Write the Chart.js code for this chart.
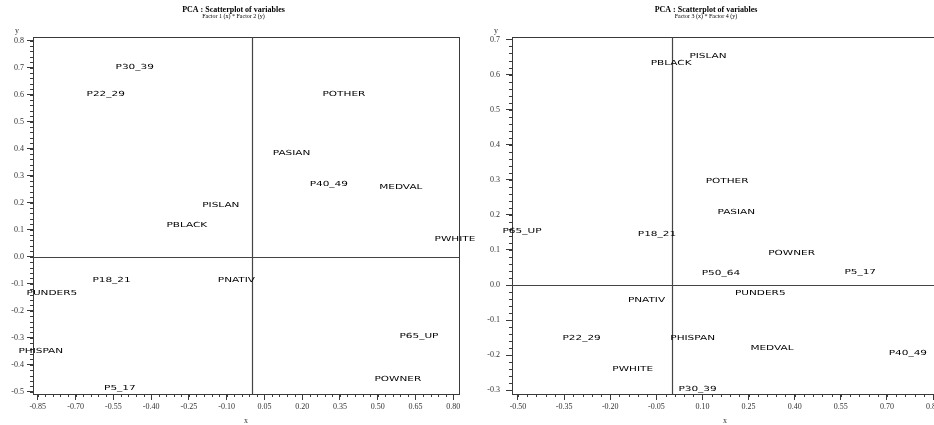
<!DOCTYPE html>
<html>
<head>
<meta charset="utf-8">
<script src="https://cdn.jsdelivr.net/npm/chart.js@4.4.0/dist/chart.umd.min.js"></script>
<style>
  html, body { margin: 0; padding: 0; background: #fff; overflow: hidden; }
  body { width: 934px; height: 425px; position: relative; }
  canvas { position: absolute; top: 0; }
  #left { left: 0; }
  #right { left: 467px; }
</style>
</head>
<body>
<canvas id="left" width="480" height="425"></canvas>
<canvas id="right" width="481" height="425"></canvas>
<script>
// factor 1 (x) * factor 2 (y)
var leftNames = ['P30_39', 'P22_29', 'POTHER', 'PASIAN', 'P40_49', 'MEDVAL', 'PWHITE', 'PISLAN',
                 'PBLACK', 'P18_21', 'PNATIV', 'PUNDER5', 'PHISPAN', 'P5_17', 'P65_UP', 'POWNER'];
var leftX = [-0.465, -0.580, 0.366, 0.158, 0.306, 0.592, 0.807, -0.123,
             -0.258, -0.557, -0.061, -0.794, -0.838, -0.524, 0.664, 0.580];
var leftY = [0.700, 0.600, 0.600, 0.384, 0.267, 0.258, 0.066, 0.191,
             0.117, -0.086, -0.086, -0.136, -0.350, -0.486, -0.293, -0.455];
var leftXTicks = ['-0.85', '-0.70', '-0.55', '-0.40', '-0.25', '-0.10', '0.05', '0.20', '0.35', '0.50', '0.65', '0.80'];
var leftYTicks = ['0.8', '0.7', '0.6', '0.5', '0.4', '0.3', '0.2', '0.1', '0.0', '-0.1', '-0.2', '-0.3', '-0.4', '-0.5'];

// factor 3 (x) * factor 4 (y)
var rightNames = ['PISLAN', 'PBLACK', 'POTHER', 'PASIAN', 'P65_UP', 'P18_21', 'POWNER', 'P50_64', 'P5_17',
                  'PUNDER5', 'PNATIV', 'P22_29', 'PHISPAN', 'MEDVAL', 'P40_49', 'PWHITE', 'P30_39'];
var rightX = [0.118, -0.002, 0.180, 0.210, -0.487, -0.048, 0.390, 0.160, 0.613,
              0.288, -0.082, -0.293, 0.068, 0.326, 0.768, -0.127, 0.084];
var rightY = [0.653, 0.632, 0.297, 0.207, 0.153, 0.144, 0.090, 0.033, 0.037,
              -0.024, -0.043, -0.152, -0.152, -0.181, -0.194, -0.241, -0.296];
var rightXTicks = ['-0.50', '-0.35', '-0.20', '-0.05', '0.10', '0.25', '0.40', '0.55', '0.70', '0.85'];
var rightYTicks = ['0.7', '0.6', '0.5', '0.4', '0.3', '0.2', '0.1', '0.0', '-0.1', '-0.2', '-0.3'];

var axisColor = '#3a3a3a';
var serif = '"Liberation Serif", "Times New Roman", serif';

// titles, frame, zero lines, minor ticks and variable names
var decor = {
    id: 'decor',
    afterDraw: function (chart, args, o) {
        var ctx = chart.ctx;
        var a = chart.chartArea;
        var xs = chart.scales.x, ys = chart.scales.y;
        ctx.save();

        ctx.fillStyle = '#000';
        ctx.textAlign = 'center';
        ctx.textBaseline = 'middle';
        ctx.font = 'bold 8px ' + serif;
        ctx.fillText('PCA : Scatterplot of variables', o.titleX, 9.5);
        ctx.font = '6px ' + serif;
        ctx.fillText(o.subtitle, o.titleX, 16.5);
        ctx.font = '8px ' + serif;
        ctx.fillStyle = '#333';
        ctx.fillText('y', a.left - 16, 31);
        ctx.fillText('x', (a.left + a.right) / 2, 421);

        ctx.strokeStyle = axisColor;
        ctx.lineWidth = 1;
        ctx.strokeRect(Math.round(a.left) + 0.5, Math.round(a.top) + 0.5,
                       Math.round(a.right - a.left), Math.round(a.bottom - a.top));

        // zero lines
        var x0 = Math.round(xs.getPixelForValue(0)) + 0.5;
        var y0 = Math.round(ys.getPixelForValue(0)) + 0.5;
        ctx.strokeStyle = '#444';
        ctx.lineWidth = 1.2;
        ctx.beginPath();
        ctx.moveTo(x0, a.top); ctx.lineTo(x0, a.bottom);
        ctx.moveTo(a.left, y0); ctx.lineTo(a.right, y0);
        ctx.stroke();

        // minor ticks
        ctx.strokeStyle = axisColor;
        ctx.lineWidth = 1;
        ctx.beginPath();
        var v, p;
        var xm = Number(o.xTicks[0]);
        for (v = xm - 0.15; v <= xs.max + 1e-9; v += 0.03) {
            if (v < xs.min) continue;
            p = Math.round(xs.getPixelForValue(v)) + 0.5;
            ctx.moveTo(p, a.bottom); ctx.lineTo(p, a.bottom + 3);
        }
        var ym = Number(o.yTicks[o.yTicks.length - 1]);
        for (v = ym - 0.1; v <= ys.max + 1e-9; v += 0.02) {
            if (v < ys.min) continue;
            p = Math.round(ys.getPixelForValue(v)) + 0.5;
            ctx.moveTo(a.left - 3, p); ctx.lineTo(a.left, p);
        }
        ctx.stroke();

        // variable names at their points
        var meta = chart.getDatasetMeta(0);
        var names = chart.data.datasets[0].names;
        ctx.fillStyle = '#000';
        ctx.font = '7px "DejaVu Sans", sans-serif';
        meta.data.forEach(function (el, i) {
            ctx.save();
            ctx.translate(el.x, el.y);
            ctx.scale(1.5, 1);
            ctx.fillText(names[i], 0, 0);
            ctx.restore();
        });
        ctx.restore();
    }
};

function makeChart(id, names, xs, ys, xTicks, yTicks, c) {
    var pts = [];
    for (var i = 0; i < names.length; i++) pts.push({x: xs[i], y: ys[i]});
    var tickFont = {family: serif, size: 8};
    return new Chart(document.getElementById(id), {
        type: 'scatter',
        data: {datasets: [{data: pts, names: names, pointRadius: 0, pointHoverRadius: 0}]},
        plugins: [decor],
        options: {
            responsive: false,
            animation: false,
            events: [],
            layout: {padding: {left: 0, top: 37, right: c.padRight, bottom: 0}},
            plugins: {
                legend: {display: false},
                tooltip: {enabled: false},
                decor: {titleX: c.titleX, subtitle: c.subtitle, xTicks: xTicks, yTicks: yTicks}
            },
            scales: {
                x: {
                    type: 'linear', min: c.xMin, max: c.xMax,
                    afterBuildTicks: function (s) { s.ticks = xTicks.map(function (t) { return {value: Number(t)}; }); },
                    afterFit: function (s) { s.height = 31; },
                    ticks: {
                        autoSkip: false, maxRotation: 0, padding: 2, color: '#333', font: tickFont,
                        callback: function (v, i) { return xTicks[i]; }
                    },
                    grid: {drawOnChartArea: false, drawTicks: true, tickLength: 6, color: axisColor},
                    border: {display: true, color: axisColor}
                },
                y: {
                    type: 'linear', min: c.yMin, max: c.yMax,
                    afterBuildTicks: function (s) { s.ticks = yTicks.map(function (t) { return {value: Number(t)}; }); },
                    afterFit: function (s) { s.width = c.yWidth; },
                    ticks: {
                        autoSkip: false, padding: c.yPad, color: '#333', font: tickFont,
                        callback: function (v, i) { return yTicks[i]; }
                    },
                    grid: {drawOnChartArea: false, drawTicks: true, tickLength: 6, color: axisColor},
                    border: {display: true, color: axisColor}
                }
            }
        }
    });
}

makeChart('left', leftNames, leftX, leftY, leftXTicks, leftYTicks, {
    xMin: -0.869, xMax: 0.823, yMin: -0.508, yMax: 0.813,
    yWidth: 33, yPad: 3, padRight: 21, titleX: 233.5,
    subtitle: 'Factor 1 (x) * Factor 2 (y)'
});

makeChart('right', rightNames, rightX, rightY, rightXTicks, rightYTicks, {
    xMin: -0.5195, xMax: 0.866, yMin: -0.3105, yMax: 0.707,
    yWidth: 45, yPad: 6, padRight: 10, titleX: 239,
    subtitle: 'Factor 3 (x) * Factor 4 (y)'
});
</script>
</body>
</html>
